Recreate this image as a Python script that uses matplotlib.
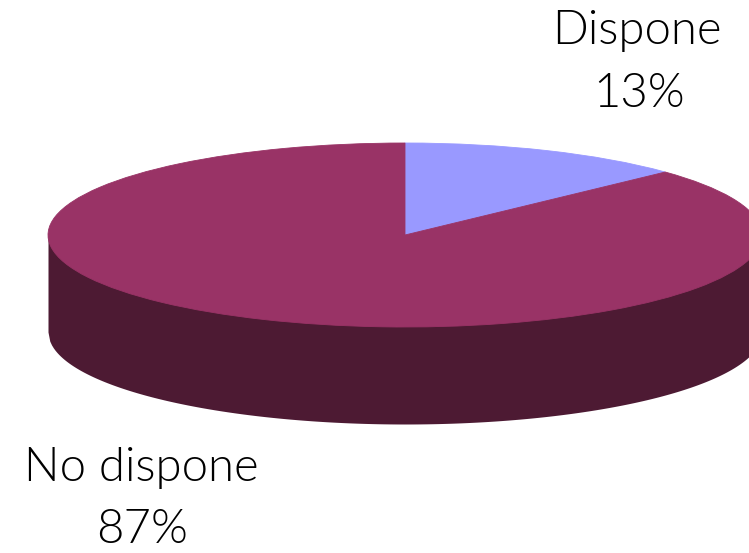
import numpy as np
import matplotlib
matplotlib.use('Agg')
import matplotlib.pyplot as plt

labels = ['Dispone', 'No dispone']
percents = [13, 87]
colors = ['#9999FF', '#993366']
wall_color = '#4D1A33'

W, H = 749, 553
cx, cy = 405, 235
rx, ry = 357, 92
depth = 97 / ry

plt.rcParams['font.family'] = ['Lato', 'DejaVu Sans']

fig = plt.figure(figsize=(W / 100, H / 100), dpi=100)
ax = fig.add_axes([0, 0, 1, 1])

wedges, _ = ax.pie(percents, colors=colors, startangle=90, counterclock=False, radius=1,
                   wedgeprops={'linewidth': 0.6, 'zorder': 3})
wedges[0].set_edgecolor(colors[0])
wedges[1].set_edgecolor(colors[1])
ax.set_aspect('auto')
ax.set_xlim(-cx / rx, (W - cx) / rx)
ax.set_ylim(-(H - cy) / ry, cy / ry)

# side wall of the disc, runs up behind the top so no seam shows
x = np.linspace(-1, 1, 400)
low = -np.sqrt(1 - x ** 2)
ax.fill_between(x, 0 * x, low - depth, color=wall_color, linewidth=0, zorder=2)
ax.axis('off')

text_style = {'ha': 'center', 'va': 'center', 'fontsize': 34, 'fontweight': 300, 'color': 'black'}
fig.text(637 / W, 1 - 31 / H, labels[0], **text_style)
fig.text(639 / W, 1 - 94 / H, '{0}%'.format(percents[0]), **text_style)
fig.text(141 / W, 1 - 468 / H, labels[1], **text_style)
fig.text(142 / W, 1 - 530 / H, '{0}%'.format(percents[1]), **text_style)

fig.savefig('out.png', dpi=100)
